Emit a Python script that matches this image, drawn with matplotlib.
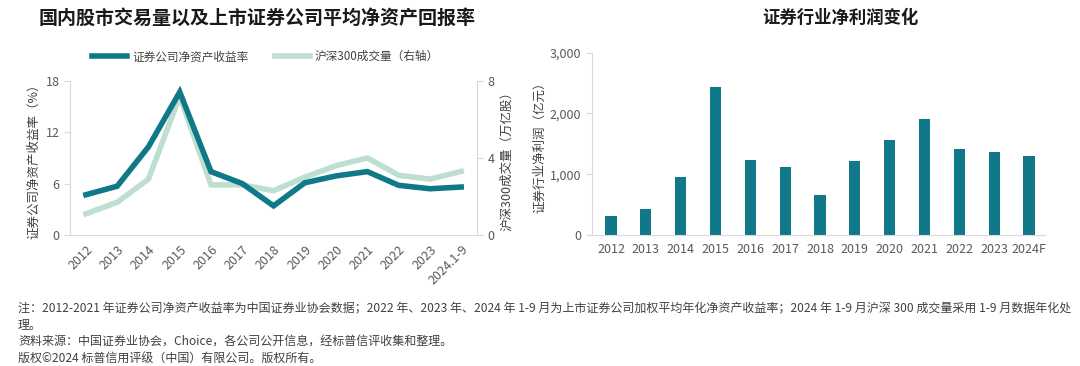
import matplotlib.pyplot as plt
import numpy as np

plt.rcParams['font.family'] = ['Noto Sans CJK SC', 'DejaVu Sans']

# left chart data
years_l = ['2012', '2013', '2014', '2015', '2016', '2017', '2018', '2019', '2020', '2021', '2022', '2023', '2024.1-9']
roe = [4.7, 5.7, 10.3, 16.7, 7.4, 6.0, 3.4, 6.1, 6.9, 7.4, 5.8, 5.4, 5.6]
volume = [1.1, 1.7, 2.9, 7.2, 2.6, 2.6, 2.3, 3.0, 3.6, 4.0, 3.1, 2.9, 3.3]

# right chart data
years_r = ['2012', '2013', '2014', '2015', '2016', '2017', '2018', '2019', '2020', '2021', '2022', '2023', '2024F']
profit = [320, 430, 960, 2440, 1230, 1125, 665, 1225, 1570, 1905, 1420, 1370, 1295]

dark = '#0f7889'
light = '#bedfcf'
grey = '#595959'
spine = '#d9d9d9'

fig = plt.figure(figsize=(10.8, 3.66), dpi=100)

# ---- left chart
ax1 = fig.add_axes([0.0648, 0.358, 0.377, 0.421])
ax2 = ax1.twinx()
x = np.arange(len(years_l))
l1, = ax1.plot(x, roe, color=dark, lw=4, solid_joinstyle='miter', zorder=3, label='证券公司净资产收益率')
l2, = ax2.plot(x, volume, color=light, lw=4, solid_joinstyle='miter', label='沪深300成交量（右轴）')
ax1.set_zorder(ax2.get_zorder() + 1)
ax1.patch.set_visible(False)
ax1.set_xlim(-0.51, 12.51)
ax1.set_ylim(0, 18)
ax1.set_yticks([0, 6, 12, 18])
ax2.set_ylim(0, 8)
ax2.set_yticks([0, 4, 8])
ax1.set_xticks(x)
ax1.set_xticklabels(years_l, rotation=45, ha='right', rotation_mode='anchor')
for a in (ax1, ax2):
    for s in a.spines.values():
        s.set_visible(False)
    a.tick_params(colors=grey, labelsize=9, length=4, width=0.8, color=spine)
ax1.tick_params(axis='x', length=0, pad=6)
ax1.spines['left'].set_visible(True)
ax1.spines['left'].set_color(spine)
ax1.spines['bottom'].set_visible(True)
ax1.spines['bottom'].set_color(spine)
ax2.spines['right'].set_visible(True)
ax2.spines['right'].set_color(spine)
ax1.set_ylabel('证券公司净资产收益率（%）', fontsize=9, color='#404040', labelpad=4)
ax2.set_ylabel('沪深300成交量（万亿股）', fontsize=9, color='#404040', labelpad=4)

fig.text(0.238, 0.95, '国内股市交易量以及上市证券公司平均净资产回报率', ha='center', va='center',
         fontsize=13.7, fontweight='bold', color='#1a1a1a')
fig.legend(handles=[l1, l2], loc='center', bbox_to_anchor=(0.246, 0.845), ncol=2, frameon=False,
           fontsize=8.4, handlelength=3.0, columnspacing=2.3, handletextpad=0.4, labelcolor='#404040')

# ---- right chart
ax3 = fig.add_axes([0.548, 0.358, 0.4196, 0.498])
xr = np.arange(len(years_r))
ax3.bar(xr, profit, width=0.32, color=dark)
ax3.set_xlim(-0.55, 12.46)
ax3.set_ylim(0, 3000)
ax3.set_yticks([0, 1000, 2000, 3000])
ax3.set_yticklabels(['0', '1,000', '2,000', '3,000'])
ax3.set_xticks(xr)
ax3.set_xticklabels(years_r)
for s in ax3.spines.values():
    s.set_visible(False)
ax3.spines['left'].set_visible(True)
ax3.spines['left'].set_color(spine)
ax3.spines['bottom'].set_visible(True)
ax3.spines['bottom'].set_color(spine)
ax3.tick_params(colors=grey, labelsize=9, length=4, width=0.8, color=spine)
ax3.tick_params(axis='x', length=0, pad=6)
ax3.set_ylabel('证券行业净利润（亿元）', fontsize=9, color='#404040', labelpad=3)
fig.text(0.778, 0.95, '证券行业净利润变化', ha='center', va='center',
         fontsize=12.5, fontweight='bold', color='#1a1a1a')

# ---- notes
notes = [
    '注：2012-2021 年证券公司净资产收益率为中国证券业协会数据；2022 年、2023 年、2024 年 1-9 月为上市证券公司加权平均年化净资产收益率；2024 年 1-9 月沪深 300 成交量采用 1-9 月数据年化处',
    '理。',
    '资料来源：中国证券业协会，Choice，各公司公开信息，经标普信评收集和整理。',
    '版权©2024 标普信用评级（中国）有限公司。版权所有。',
]
ys = [309, 325, 342, 358]
for t, yy in zip(notes, ys):
    fig.text(18 / 1080, 1 - yy / 366, t, ha='left', va='center', fontsize=8.65, color='#404040')

plt.savefig('out.png', dpi=100)
